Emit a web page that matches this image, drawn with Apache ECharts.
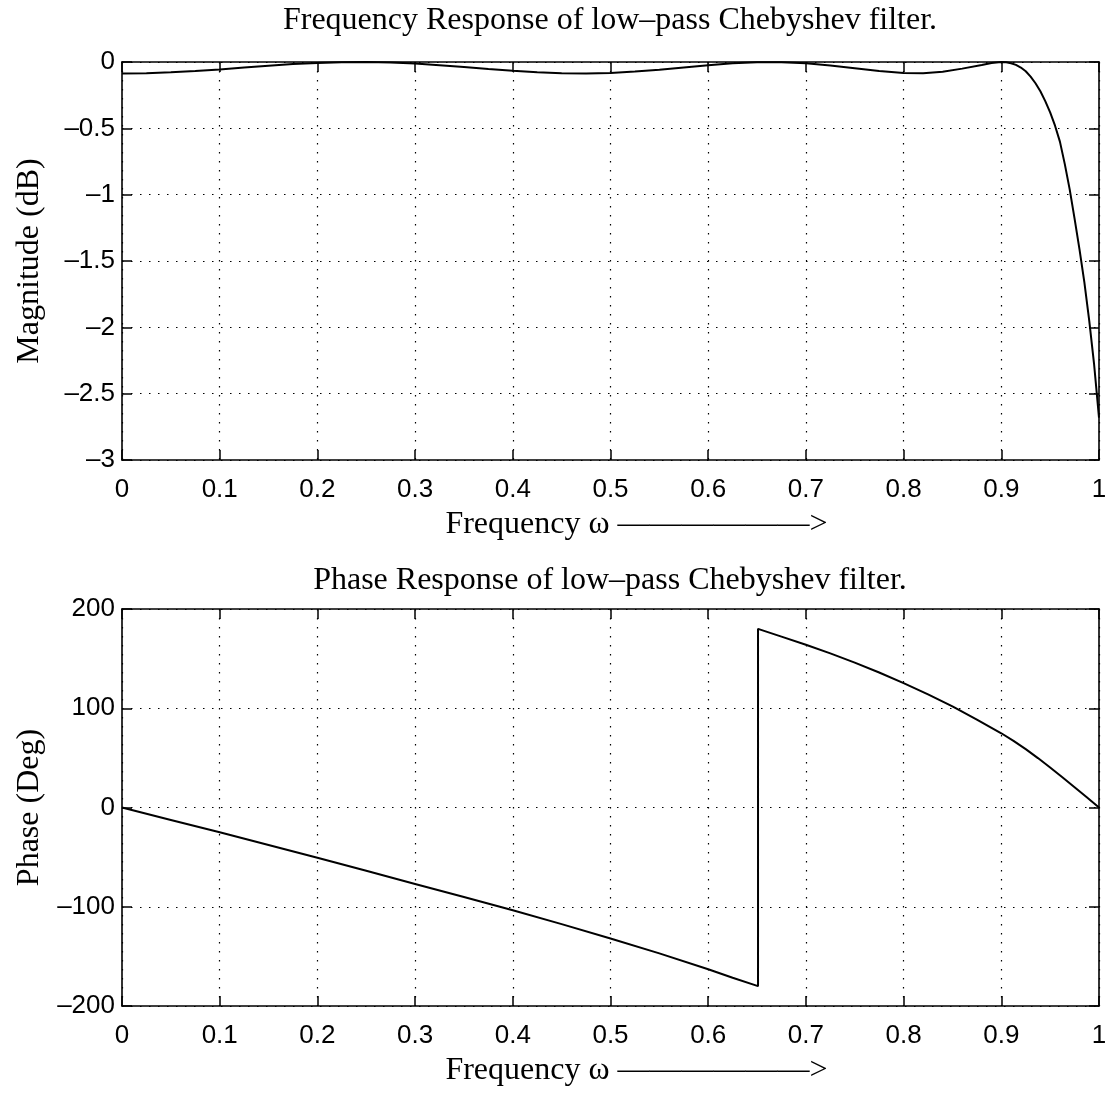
<!DOCTYPE html>
<html><head><meta charset="utf-8">
<script src="https://cdn.jsdelivr.net/npm/echarts@6/dist/echarts.min.js"></script>
<style>html,body{margin:0;padding:0;background:#fff}#c{width:1112px;height:1099px}</style>
</head><body><div id="c"></div>
<script>
// ---- data ----
const magFreq = [0, 0.025, 0.05, 0.075, 0.1, 0.125, 0.15, 0.175, 0.2, 0.225, 0.25, 0.275, 0.3, 0.325, 0.35, 0.375, 0.4, 0.425, 0.45, 0.475, 0.5, 0.525, 0.55, 0.575, 0.6, 0.625, 0.65, 0.675, 0.7, 0.725, 0.75, 0.775, 0.8, 0.82, 0.84, 0.86, 0.88, 0.89, 0.9, 0.905, 0.91, 0.915, 0.92, 0.925, 0.93, 0.935, 0.94, 0.945, 0.95, 0.955, 0.96, 0.965, 0.97, 0.975, 0.98, 0.985, 0.99, 0.995, 1.0];
const magDb = [-0.086, -0.084, -0.078, -0.068, -0.056, -0.042, -0.028, -0.016, -0.007, -0.001, 0, -0.004, -0.012, -0.024, -0.038, -0.053, -0.066, -0.077, -0.084, -0.086, -0.082, -0.072, -0.058, -0.041, -0.024, -0.010, -0.002, -0.001, -0.009, -0.026, -0.047, -0.068, -0.082, -0.085, -0.074, -0.050, -0.022, -0.007, 0, -0.002, -0.009, -0.022, -0.042, -0.07, -0.11, -0.16, -0.22, -0.295, -0.38, -0.48, -0.6, -0.77, -0.96, -1.18, -1.41, -1.66, -1.95, -2.28, -2.68];

const phaseFreq = [0, 0.05, 0.1, 0.15, 0.2, 0.25, 0.3, 0.35, 0.4, 0.45, 0.5, 0.55, 0.6, 0.625, 0.651, 0.651, 0.675, 0.7, 0.725, 0.75, 0.775, 0.8, 0.825, 0.85, 0.875, 0.9, 0.9125, 0.925, 0.9375, 0.95, 0.9625, 0.975, 0.9875, 1.0];
const phaseDeg = [0, -12.5, -25, -37.8, -50.6, -63.8, -77, -90.2, -103.5, -117.5, -132, -147, -163, -171.5, -180, 180, 172.2, 164, 155.3, 146, 136, 125.3, 114, 101.8, 88.5, 74.8, 67.2, 58.8, 49.8, 40.3, 30.5, 20.5, 10.3, 0];

const xTicks = [0, 0.1, 0.2, 0.3, 0.4, 0.5, 0.6, 0.7, 0.8, 0.9, 1];
const magTicks = [0, -0.5, -1, -1.5, -2, -2.5, -3];
const phaseTicks = [200, 100, 0, -100, -200];

const titles = ['Frequency Response of low\u2013pass Chebyshev filter.', 'Phase Response of low\u2013pass Chebyshev filter.'];
const xName = 'Frequency \u03c9 \u2014\u2014\u2014\u2014\u2014\u2014>';
const yNames = ['Magnitude (dB)', 'Phase (Deg)'];

// ---- chart ----
const serif = 'Liberation Serif, Times New Roman, serif';
const sans = 'Liberation Sans, Arial, Helvetica, sans-serif';
function fmt(v) { const s = String(Math.round(v * 1000) / 1000); return s.replace('-', '\u2013'); }
const gridDefs = [
  { left: 122, top: 62, width: 977, height: 398 },
  { left: 122, top: 609, width: 977, height: 397 }
];
const frameLine = { show: true, onZero: false, lineStyle: { color: '#000', width: 1.6 } };
const tick = { show: true, inside: true, length: 10, lineStyle: { color: '#000', width: 1.5 } };
const dotted = { show: true, lineStyle: { color: '#000', width: 1.2, type: [1.5, 7.5] } };

function xAxes(gi) {
  return [
    { gridIndex: gi, type: 'value', position: 'bottom', min: xTicks[0], max: xTicks[xTicks.length - 1], interval: xTicks[1] - xTicks[0],
      axisLine: frameLine, axisTick: tick, splitLine: dotted,
      axisLabel: { color: '#000', fontFamily: sans, fontSize: 26, margin: 17, formatter: fmt },
      name: xName, nameLocation: 'middle', nameGap: 49,
      nameTextStyle: { color: '#000', fontFamily: serif, fontSize: 32, padding: [0, 0, 0, 52] } },
    { gridIndex: gi, type: 'value', position: 'top', min: xTicks[0], max: xTicks[xTicks.length - 1], interval: xTicks[1] - xTicks[0],
      axisLine: frameLine, axisTick: tick, splitLine: { show: false }, axisLabel: { show: false } }
  ];
}
function yAxes(gi, ticks, name) {
  const mn = Math.min(...ticks), mx = Math.max(...ticks), iv = Math.abs(ticks[1] - ticks[0]);
  return [
    { gridIndex: gi, type: 'value', position: 'left', min: mn, max: mx, interval: iv,
      axisLine: frameLine, axisTick: tick, splitLine: dotted,
      axisLabel: { color: '#000', fontFamily: sans, fontSize: 26, margin: 7, formatter: fmt },
      name: name, nameLocation: 'middle', nameGap: 76,
      nameTextStyle: { color: '#000', fontFamily: serif, fontSize: 32 } },
    { gridIndex: gi, type: 'value', position: 'right', min: mn, max: mx, interval: iv,
      axisLine: frameLine, axisTick: tick, splitLine: { show: false }, axisLabel: { show: false } }
  ];
}

const option = {
  backgroundColor: '#fff',
  animation: false,
  title: [
    { text: titles[0], left: 610, top: 5, textAlign: 'center', padding: 0,
      textStyle: { color: '#000', fontFamily: serif, fontSize: 32, fontWeight: 'normal' } },
    { text: titles[1], left: 610, top: 565, textAlign: 'center', padding: 0,
      textStyle: { color: '#000', fontFamily: serif, fontSize: 32, fontWeight: 'normal' } }
  ],
  grid: gridDefs,
  xAxis: [...xAxes(0), ...xAxes(1)],
  yAxis: [...yAxes(0, magTicks, yNames[0]), ...yAxes(1, phaseTicks, yNames[1])],
  series: [
    { type: 'line', xAxisIndex: 0, yAxisIndex: 0, showSymbol: false, clip: true,
      lineStyle: { color: '#000', width: 2 }, data: magFreq.map((f, i) => [f, magDb[i]]) },
    { type: 'line', xAxisIndex: 2, yAxisIndex: 2, showSymbol: false, clip: true,
      lineStyle: { color: '#000', width: 2 }, data: phaseFreq.map((f, i) => [f, phaseDeg[i]]) }
  ]
};
const chart = echarts.init(document.getElementById('c'), null, { renderer: 'canvas' });
chart.setOption(option);
</script>
</body></html>
